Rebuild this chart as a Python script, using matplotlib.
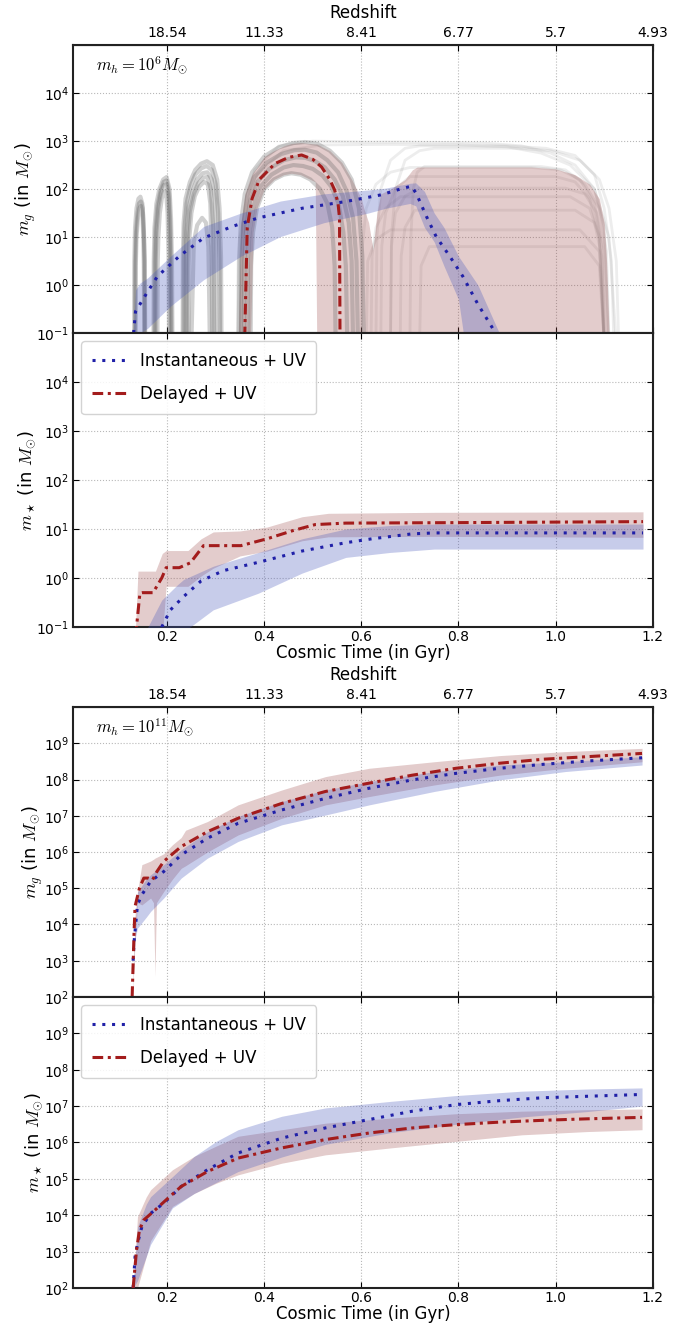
import matplotlib.pyplot as plt
import numpy as np

plt.rcParams['mathtext.fontset'] = 'cm'
plt.rcParams['font.family'] = ['DejaVu Sans']

# ---- common axis data ----
time_ticks = [0.2, 0.4, 0.6, 0.8, 1.0, 1.2]
z_labels = ['18.54', '11.33', '8.41', '6.77', '5.7', '4.93']

# ---- m_h = 1e6 : gas mass (log10 values) ----
g6_inst_t = [0.131, 0.135, 0.158, 0.18, 0.225, 0.275, 0.334, 0.388, 0.478, 0.568, 0.641, 0.68, 0.703,
             0.713, 0.734, 0.754, 0.782, 0.809, 0.84, 0.874]
g6_inst = [-1.0, -0.55, -0.17, 0.18, 0.6, 0.98, 1.22, 1.4, 1.6, 1.74, 1.88, 2.0, 2.06,
           1.91, 1.43, 1.01, 0.6, 0.18, -0.4, -0.96]
g6_inst_band_t = [0.130, 0.135, 0.144, 0.16, 0.207, 0.275, 0.352, 0.433, 0.523, 0.614, 0.65, 0.70, 0.712,
                  0.73, 0.75, 0.77, 0.80, 0.81, 0.84, 0.884]
g6_inst_hi = [-1, -0.1, 0.04, 0.15, 0.6, 1.22, 1.5, 1.75, 1.9, 1.98, 2.02, 2.12, 2.13,
              1.95, 1.5, 1.2, 0.6, 0.45, 0.0, -1]
g6_inst_lo = [-1, -1, -1, -0.9, -0.44, 0.11, 0.6, 1.01, 1.3, 1.5, 1.6, 1.7, 1.65,
              1.2, 0.9, 0.4, -0.3, -1, -1, -1]

g6_del_t = [0.358, 0.36, 0.365, 0.375, 0.39, 0.422, 0.45, 0.477, 0.50, 0.518, 0.535, 0.545, 0.552,
            0.555, 0.556, 0.557, 1.18]
g6_del = [-3, -1, 1.2, 1.8, 2.2, 2.53, 2.66, 2.71, 2.62, 2.46, 2.2, 1.98, 1.70, 1.4, -1, -3, -3]
g6_del_band_t = [0.347, 0.352, 0.36, 0.372, 0.377, 0.385, 0.40, 0.42, 0.44, 0.456, 0.475, 0.495, 0.505,
                 0.508, 0.535, 0.56, 0.58, 0.595, 0.600, 0.605, 0.615, 0.624, 0.632, 0.64, 0.66, 0.69,
                 0.705, 0.715, 0.95, 1.00, 1.04, 1.07, 1.09, 1.10, 1.105, 1.11]
g6_del_hi = [-1, 1.3, 1.9, 2.25, 2.35, 2.45, 2.68, 2.8, 2.9, 2.95, 2.97, 2.95, 2.94,
             2.94, 2.8, 2.55, 2.2, 1.9, 1.8, 1.6, 1.3, 0.73, 1.5, 1.9, 2.0, 2.2,
             2.4, 2.46, 2.46, 2.42, 2.3, 2.1, 1.8, 1.3, 0.5, -1]
g6_del_lo = [-1, -1, -1, -1, 1.1, 1.6, 2.0, 2.2, 2.3, 2.33, 2.3, 2.2, 2.15,
             -1, -1, -1, -1, -1, -1, -1, -1, -1, -1, -1, -1, -1,
             -1, -1, -1, -1, -1, -1, -1, -1, -1, -1]

# individual delayed-model realisations (log10 m_g)
gray_arches = [
    ([0.132, 0.1325, 0.134, 0.137, 0.141, 0.145, 0.149, 0.152, 0.154, 0.155], [-1.2, 0.5, 1.2, 1.6, 1.8, 1.84, 1.7, 1.2, 0.5, -1.2]),
    ([0.135, 0.1355, 0.137, 0.140, 0.143, 0.146, 0.149, 0.151, 0.152, 0.153], [-1.2, 0.4, 1.0, 1.4, 1.6, 1.65, 1.5, 1.0, 0.4, -1.2]),
    ([0.134, 0.1345, 0.136, 0.139, 0.142, 0.146, 0.150, 0.152, 0.1535, 0.154], [-1.2, 0.5, 1.1, 1.5, 1.7, 1.74, 1.6, 1.1, 0.5, -1.2]),
    ([0.172, 0.1725, 0.174, 0.178, 0.184, 0.192, 0.199, 0.205, 0.208, 0.210, 0.211], [-1.2, 0.5, 1.2, 1.7, 2.0, 2.2, 2.25, 2.0, 1.4, 0.5, -1.2]),
    ([0.180, 0.1805, 0.182, 0.185, 0.189, 0.194, 0.198, 0.201, 0.203, 0.204], [-1.2, 0.4, 1.0, 1.5, 1.8, 1.95, 1.93, 1.5, 0.6, -1.2]),
    ([0.176, 0.1765, 0.178, 0.182, 0.187, 0.193, 0.199, 0.203, 0.206, 0.207], [-1.2, 0.5, 1.1, 1.6, 1.9, 2.08, 2.1, 1.8, 0.8, -1.2]),
    ([0.174, 0.1745, 0.176, 0.180, 0.186, 0.193, 0.199, 0.204, 0.207, 0.209], [-1.2, 0.5, 1.15, 1.65, 1.95, 2.15, 2.18, 1.9, 1.1, -1.2]),
    ([0.234, 0.2345, 0.236, 0.240, 0.248, 0.258, 0.270, 0.281, 0.292, 0.300, 0.305, 0.308, 0.309], [-1.2, 0.5, 1.2, 1.7, 2.05, 2.3, 2.43, 2.48, 2.4, 2.1, 1.5, 0.5, -1.2]),
    ([0.244, 0.2445, 0.246, 0.250, 0.257, 0.266, 0.276, 0.284, 0.289, 0.292, 0.293], [-1.2, 0.4, 1.0, 1.5, 1.85, 2.05, 2.15, 2.1, 1.7, 0.6, -1.2]),
    ([0.238, 0.2385, 0.240, 0.244, 0.252, 0.262, 0.273, 0.283, 0.292, 0.298, 0.301, 0.302], [-1.2, 0.5, 1.1, 1.6, 1.95, 2.2, 2.33, 2.35, 2.2, 1.8, 0.7, -1.2]),
    ([0.241, 0.2415, 0.243, 0.247, 0.255, 0.264, 0.275, 0.283, 0.290, 0.295, 0.297], [-1.2, 0.5, 1.05, 1.55, 1.9, 2.12, 2.24, 2.25, 2.0, 1.2, -1.2]),
    ([0.232, 0.2325, 0.234, 0.238, 0.247, 0.258, 0.270, 0.282, 0.294, 0.303, 0.308, 0.311, 0.312], [-1.2, 0.6, 1.3, 1.8, 2.15, 2.4, 2.53, 2.58, 2.5, 2.2, 1.6, 0.6, -1.2]),
    ([0.25, 0.255, 0.262, 0.272, 0.28, 0.285, 0.288], [-1.2, 0.9, 1.25, 1.4, 1.3, 0.8, -1.2]),
    ([0.347, 0.348, 0.352, 0.36, 0.375, 0.40, 0.43, 0.46, 0.484, 0.51, 0.535, 0.56, 0.58, 0.595, 0.602, 0.605], [-1.2, 0.5, 1.3, 1.9, 2.35, 2.68, 2.87, 2.96, 2.98, 2.94, 2.8, 2.55, 2.2, 1.6, 0.6, -1.2]),
    ([0.372, 0.373, 0.377, 0.385, 0.40, 0.42, 0.44, 0.456, 0.475, 0.495, 0.515, 0.53, 0.54, 0.545, 0.547], [-1.2, 0.4, 1.1, 1.6, 2.0, 2.2, 2.3, 2.33, 2.3, 2.2, 2.0, 1.7, 1.2, 0.4, -1.2]),
    ([0.352, 0.353, 0.357, 0.365, 0.38, 0.405, 0.435, 0.462, 0.484, 0.508, 0.53, 0.552, 0.57, 0.583, 0.59, 0.593], [-1.2, 0.5, 1.25, 1.85, 2.25, 2.55, 2.73, 2.81, 2.82, 2.76, 2.6, 2.35, 1.95, 1.4, 0.5, -1.2]),
    ([0.358, 0.359, 0.363, 0.371, 0.386, 0.41, 0.44, 0.465, 0.485, 0.505, 0.525, 0.545, 0.562, 0.574, 0.58, 0.583], [-1.2, 0.5, 1.2, 1.75, 2.15, 2.42, 2.6, 2.66, 2.65, 2.58, 2.45, 2.2, 1.85, 1.3, 0.5, -1.2]),
    ([0.365, 0.366, 0.37, 0.378, 0.392, 0.415, 0.44, 0.46, 0.48, 0.50, 0.52, 0.538, 0.553, 0.563, 0.568, 0.571], [-1.2, 0.5, 1.15, 1.65, 2.05, 2.3, 2.45, 2.5, 2.48, 2.42, 2.28, 2.05, 1.7, 1.1, 0.4, -1.2]),
]
gray_late = [
    ([0.345, 0.35, 0.38, 0.43, 0.50, 0.60, 0.70, 0.85, 0.93, 0.99, 1.04, 1.08, 1.10, 1.11], [-1.2, 1.0, 2.4, 2.9, 3.0, 2.98, 2.98, 2.96, 2.9, 2.75, 2.5, 2.0, 1.2, -1.2]),
    ([0.35, 0.355, 0.385, 0.44, 0.52, 0.65, 0.80, 0.90, 0.97, 1.03, 1.08, 1.11, 1.125], [-1.2, 1.0, 2.3, 2.8, 2.92, 2.93, 2.92, 2.88, 2.75, 2.5, 2.0, 1.0, -1.2]),
    ([0.63, 0.632, 0.64, 0.66, 0.69, 0.72, 0.90, 0.98, 1.04, 1.08, 1.10, 1.115, 1.12], [-1.2, 1.0, 2.0, 2.6, 2.85, 2.9, 2.9, 2.85, 2.7, 2.3, 1.6, 0.5, -1.2]),
    ([0.66, 0.662, 0.67, 0.69, 0.72, 0.75, 0.92, 0.99, 1.05, 1.09, 1.11, 1.125, 1.13], [-1.2, 1.0, 2.0, 2.6, 2.8, 2.85, 2.85, 2.8, 2.6, 2.2, 1.6, 0.5, -1.2]),
    ([0.60, 0.602, 0.61, 0.63, 0.66, 0.70, 0.95, 1.01, 1.05, 1.08, 1.095, 1.10], [-1.2, 0.8, 1.6, 2.1, 2.35, 2.45, 2.45, 2.4, 2.2, 1.7, 0.8, -1.2]),
    ([0.70, 0.702, 0.707, 0.715, 0.73, 0.97, 1.02, 1.06, 1.09, 1.105, 1.11], [-1.2, 1.0, 2.0, 2.35, 2.47, 2.47, 2.4, 2.1, 1.6, 0.7, -1.2]),
    ([0.64, 0.642, 0.65, 0.67, 0.70, 1.00, 1.04, 1.07, 1.09, 1.10], [-1.2, 0.8, 1.5, 2.0, 2.26, 2.26, 2.15, 1.8, 1.0, -1.2]),
    ([0.66, 0.662, 0.67, 0.69, 0.72, 1.02, 1.06, 1.085, 1.10, 1.105], [-1.2, 0.8, 1.5, 1.85, 2.02, 2.02, 1.9, 1.5, 0.7, -1.2]),
    ([0.62, 0.622, 0.63, 0.65, 0.68, 1.03, 1.07, 1.09, 1.10], [-1.2, 0.6, 1.2, 1.6, 1.84, 1.84, 1.6, 1.0, -1.2]),
    ([0.68, 0.682, 0.69, 0.71, 1.04, 1.08, 1.095, 1.10], [-1.2, 0.6, 1.2, 1.56, 1.56, 1.3, 0.6, -1.2]),
    ([0.61, 0.613, 0.63, 0.66, 1.05, 1.09, 1.10], [-1.2, 0.5, 0.95, 1.15, 1.15, 0.7, -1.2]),
    ([0.72, 0.723, 0.74, 1.06, 1.09, 1.10], [-1.2, 0.4, 0.8, 0.8, 0.4, -1.2]),
]

# ---- m_h = 1e6 : stellar mass ----
s6_inst_t = [0.185, 0.189, 0.207, 0.234, 0.27, 0.316, 0.388, 0.478, 0.568, 0.622, 0.704, 0.75, 1.18]
s6_inst = [-1.2, -1.0, -0.65, -0.38, -0.06, 0.15, 0.32, 0.55, 0.72, 0.8, 0.9, 0.92, 0.92]
s6_inst_band_t = [0.15, 0.189, 0.22, 0.234, 0.295, 0.388, 0.478, 0.568, 0.658, 0.75, 1.18]
s6_inst_hi = [-1.2, -0.45, -0.15, -0.03, 0.24, 0.52, 0.8, 1.0, 1.07, 1.1, 1.1]
s6_inst_lo = [-1.2, -1.2, -1.2, -1.1, -0.65, -0.31, 0.1, 0.42, 0.52, 0.59, 0.59]
s6_del_t = [0.135, 0.137, 0.144, 0.149, 0.171, 0.189, 0.198, 0.225, 0.248, 0.275, 0.352, 0.406, 0.46,
            0.505, 0.568, 0.8, 1.18]
s6_del = [-1.2, -1.0, -0.31, -0.3, -0.3, 0.0, 0.21, 0.21, 0.31, 0.66, 0.66, 0.8, 0.97, 1.09, 1.12, 1.13, 1.15]
s6_del_band_t = [0.135, 0.140, 0.149, 0.176, 0.19, 0.198, 0.243, 0.27, 0.295, 0.35, 0.406, 0.478, 0.532, 0.75, 1.18]
s6_del_hi = [-1.0, 0.14, 0.14, 0.14, 0.5, 0.56, 0.56, 0.8, 0.94, 0.96, 1.04, 1.25, 1.32, 1.34, 1.35]
s6_del_lo = [-1.2, -1.2, -1.2, -1.2, -1.2, -0.17, -0.17, 0.04, 0.2, 0.45, 0.55, 0.76, 0.84, 0.85, 0.83]

# ---- m_h = 1e11 : gas mass ----
g11_inst_t = [0.13, 0.132, 0.139, 0.148, 0.166, 0.193, 0.229, 0.283, 0.346, 0.436, 0.526, 0.616, 0.705,
              0.795, 0.885, 0.975, 1.065, 1.178]
g11_inst = [3.0, 3.53, 4.54, 4.82, 5.19, 5.46, 5.92, 6.38, 6.79, 7.16, 7.48, 7.76, 7.99, 8.17, 8.31, 8.42, 8.51, 8.6]
g11_inst_band_t = [0.128, 0.134, 0.139, 0.157, 0.166, 0.193, 0.229, 0.283, 0.346, 0.436, 0.526, 0.616, 0.75,
                   0.885, 1.02, 1.178]
g11_inst_hi = [2.0, 3.8, 4.9, 5.25, 5.37, 5.65, 6.06, 6.56, 6.98, 7.39, 7.71, 7.94, 8.22, 8.4, 8.49, 8.63]
g11_inst_lo = [2.0, 3.6, 3.9, 4.2, 4.36, 4.73, 5.28, 5.83, 6.29, 6.75, 7.02, 7.3, 7.67, 7.99, 8.22, 8.4]
g11_del_t = [0.128, 0.13, 0.132, 0.134, 0.143, 0.152, 0.161, 0.17, 0.179, 0.193, 0.229, 0.283, 0.346, 0.436,
             0.526, 0.616, 0.705, 0.795, 0.885, 0.975, 1.065, 1.178]
g11_del = [2.0, 2.9, 3.8, 4.5, 5.0, 5.28, 5.28, 5.23, 5.46, 5.74, 6.15, 6.56, 6.93, 7.34, 7.67, 7.9, 8.12,
           8.31, 8.45, 8.56, 8.63, 8.72]
g11_del_band_t = [0.128, 0.134, 0.139, 0.148, 0.166, 0.172, 0.175, 0.178, 0.193, 0.211, 0.229, 0.238, 0.283,
                  0.346, 0.436, 0.526, 0.616, 0.75, 0.885, 1.02, 1.178]
g11_del_hi = [2.0, 4.27, 4.9, 5.65, 5.75, 5.8, 5.83, 5.85, 5.95, 6.2, 6.4, 6.6, 6.84, 7.3, 7.71, 8.08, 8.31,
              8.49, 8.66, 8.77, 8.86]
g11_del_lo = [2.0, 3.5, 4.6, 4.54, 4.73, 4.6, 2.57, 4.6, 4.91, 5.25, 5.55, 5.62, 6.0, 6.47, 6.93, 7.3, 7.53,
              7.85, 8.12, 8.31, 8.49]

# ---- m_h = 1e11 : stellar mass ----
s11_inst_t = [0.13, 0.134, 0.139, 0.148, 0.166, 0.193, 0.229, 0.283, 0.346, 0.436, 0.526, 0.616, 0.705,
              0.795, 0.885, 0.975, 1.065, 1.178]
s11_inst = [2.0, 2.86, 3.22, 3.68, 4.05, 4.33, 4.79, 5.25, 5.71, 6.12, 6.4, 6.63, 6.86, 7.04, 7.15, 7.23, 7.27, 7.32]
s11_del_t = [0.13, 0.137, 0.143, 0.152, 0.175, 0.202, 0.229, 0.283, 0.346, 0.436, 0.526, 0.616, 0.705,
             0.795, 0.885, 0.975, 1.065, 1.178]
s11_del = [2.0, 3.04, 3.59, 3.87, 4.14, 4.47, 4.79, 5.2, 5.57, 5.85, 6.08, 6.26, 6.4, 6.49, 6.56, 6.61, 6.65, 6.69]
s11_band_t = [0.13, 0.139, 0.157, 0.166, 0.211, 0.256, 0.301, 0.346, 0.436, 0.526, 0.66, 0.795, 0.93, 1.065, 1.178]
s11_inst_hi = [2.0, 3.68, 4.3, 4.51, 5.06, 5.62, 6.03, 6.35, 6.72, 6.95, 7.13, 7.29, 7.41, 7.47, 7.5]
s11_inst_lo = [2.0, 2.2, 2.86, 3.2, 4.2, 4.6, 4.9, 5.2, 5.6, 5.95, 6.27, 6.5, 6.7, 6.85, 7.0]
s11_del_hi = [2.0, 3.96, 4.5, 4.7, 5.25, 5.62, 5.9, 6.17, 6.35, 6.53, 6.67, 6.79, 6.86, 6.9, 6.92]
s11_del_lo = [2.0, 2.0, 2.86, 3.3, 4.24, 4.6, 4.88, 5.11, 5.43, 5.66, 5.85, 6.03, 6.21, 6.3, 6.35]

BLUE, RED = '#2020a8', '#a31c1c'
BLUE_FILL, RED_FILL = '#4858bc', '#9b4848'
DOT = (0, (1, 2.2))
DASHDOT = (0, (3.5, 1.5, 1, 1.5))


def p(v):
    return 10.0 ** np.asarray(v)


def style(ax, ylim, yticks):
    ax.set_yscale('log')
    ax.set_xlim(0.006, 1.2)
    ax.set_ylim(*ylim)
    ax.set_xticks(time_ticks)
    ax.set_yticks(yticks)
    ax.minorticks_off()
    ax.grid(True, color='#b8b8b8', linestyle=':', linewidth=0.8)
    ax.set_axisbelow(True)
    for s in ax.spines.values():
        s.set_linewidth(1.5)
        s.set_color('#222222')
    ax.tick_params(direction='in', top=True, right=True, labelsize=10, length=4, pad=2.5)


def draw(ax, it, iv, ibt, ilo, ihi, dt, dv, dbt, dlo, dhi, labels=False):
    ax.fill_between(dbt, p(dlo), p(dhi), color=RED_FILL, alpha=0.28, lw=0, zorder=1.2)
    ax.fill_between(ibt, p(ilo), p(ihi), color=BLUE_FILL, alpha=0.3, lw=0, zorder=3)
    ax.plot(it, p(iv), color=BLUE, ls=DOT, lw=2.2, zorder=5,
            label='Instantaneous + UV' if labels else None)
    ax.plot(dt, p(dv), color=RED, ls=DASHDOT, lw=2.2, zorder=5,
            label='Delayed + UV' if labels else None)


fig = plt.figure(figsize=(6.75, 13.3), dpi=100)
L, W = 0.108, 0.859
ax1 = fig.add_axes([L, 0.7496, W, 0.2165])
ax2 = fig.add_axes([L, 0.5286, W, 0.2210])
ax3 = fig.add_axes([L, 0.2504, W, 0.2180])
ax4 = fig.add_axes([L, 0.0316, W, 0.2188])

small = [1e-1, 1e0, 1e1, 1e2, 1e3, 1e4]
big = [1e2, 1e3, 1e4, 1e5, 1e6, 1e7, 1e8, 1e9]
for ax in (ax1, ax2):
    style(ax, (1e-1, 1e5), small)
for ax in (ax3, ax4):
    style(ax, (1e2, 1e10), big)

# realisations of the delayed model
for t, v in gray_late:
    ax1.plot(t, p(v), color='0.5', alpha=0.14, lw=2.0, zorder=1)
for t, v in gray_arches:
    ax1.plot(t, p(v), color='0.35', alpha=0.28, lw=3.0, zorder=2)

draw(ax1, g6_inst_t, g6_inst, g6_inst_band_t, g6_inst_lo, g6_inst_hi,
     g6_del_t, g6_del, g6_del_band_t, g6_del_lo, g6_del_hi)
draw(ax2, s6_inst_t, s6_inst, s6_inst_band_t, s6_inst_lo, s6_inst_hi,
     s6_del_t, s6_del, s6_del_band_t, s6_del_lo, s6_del_hi, labels=True)
draw(ax3, g11_inst_t, g11_inst, g11_inst_band_t, g11_inst_lo, g11_inst_hi,
     g11_del_t, g11_del, g11_del_band_t, g11_del_lo, g11_del_hi)
draw(ax4, s11_inst_t, s11_inst, s11_band_t, s11_inst_lo, s11_inst_hi,
     s11_del_t, s11_del, s11_band_t, s11_del_lo, s11_del_hi, labels=True)

for ax, mh in ((ax1, 6), (ax3, 11)):
    ax.tick_params(labelbottom=False)
    ax.text(0.04, 0.93, r'$m_h = 10^{%d} M_{\odot}$' % mh, transform=ax.transAxes,
            fontsize=12, va='center')
    sec = ax.secondary_xaxis('top')
    sec.set_xticks(time_ticks, labels=z_labels)
    sec.tick_params(direction='in', labelsize=10, length=0)
    sec.set_xlabel('Redshift', fontsize=12, labelpad=6)
    ax.set_ylabel(r'$m_g$ (in $M_{\odot}$)', fontsize=13, labelpad=-1)

for ax in (ax2, ax4):
    ax.set_xticklabels(['0.2', '0.4', '0.6', '0.8', '1.0', '1.2'])
    ax.set_xlabel('Cosmic Time (in Gyr)', fontsize=12, labelpad=0)
    ax.set_ylabel(r'$m_\star$ (in $M_{\odot}$)', fontsize=13, labelpad=-1)
    ax.legend(loc='upper left', fontsize=12, fancybox=True, framealpha=0.85,
              edgecolor='#cccccc', handlelength=2.2, handletextpad=0.65,
              borderpad=0.65, labelspacing=0.9)

fig.savefig('out.png', dpi=100)
